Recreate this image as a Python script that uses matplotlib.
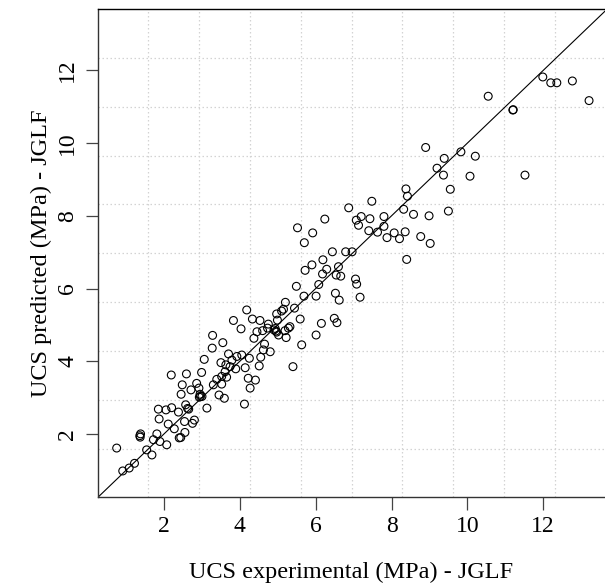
import numpy as np
import matplotlib
matplotlib.use('Agg')
import matplotlib.pyplot as plt

plt.rcParams['font.family'] = ['Liberation Serif', 'DejaVu Serif']

# UCS values (MPa)
ucs_exp = [0.75, 0.91, 1.08, 1.22, 1.37, 1.38, 1.36, 1.54, 1.68, 1.72,
           1.81, 1.87, 1.85, 1.89, 2.05, 2.07, 2.11, 2.19, 2.20, 2.27,
           2.38, 2.40, 2.44, 2.45, 2.48, 2.54, 2.55, 2.57, 2.59, 2.62,
           2.65, 2.71, 2.75, 2.80, 2.86, 2.92, 2.95, 2.99, 2.96, 3.00,
           2.93, 3.06, 3.13, 3.27, 3.28, 3.30, 3.39, 3.45, 3.52, 3.52,
           3.50, 3.55, 3.59, 3.61, 3.63, 3.65, 3.70, 3.74, 3.79, 3.83,
           3.89, 3.92, 4.03, 4.05, 4.12, 4.14, 4.18, 4.22, 4.25, 4.27,
           4.33, 4.37, 4.41, 4.45, 4.51, 4.53, 4.55, 4.60, 4.62, 4.65,
           4.73, 4.75, 4.80, 4.90, 4.95, 4.93, 4.97, 4.97, 4.99, 5.02,
           5.10, 5.15, 5.20, 5.19, 5.22, 5.28, 5.32, 5.40, 5.44, 5.49,
           5.52, 5.59, 5.63, 5.69, 5.70, 5.72, 5.90, 5.92, 6.01, 6.01,
           6.08, 6.15, 6.18, 6.19, 6.24, 6.29, 6.44, 6.49, 6.56, 6.52,
           6.54, 6.60, 6.62, 6.66, 6.79, 6.87, 6.96, 7.05, 7.07, 7.08,
           7.13, 7.17, 7.20, 7.40, 7.43, 7.48, 7.63, 7.80, 7.80, 7.88,
           8.07, 8.21, 8.32, 8.36, 8.40, 8.38, 8.42, 8.58, 8.77, 8.90,
           8.99, 9.02, 9.20, 9.37, 9.39, 9.50, 9.55, 9.83, 10.07, 10.21,
           10.55, 11.20, 11.21, 11.52, 11.99, 12.20, 12.36, 12.77, 13.21]
ucs_pred = [1.61, 0.98, 1.06, 1.19, 1.91, 2.00, 1.95, 1.56, 1.42, 1.84,
            2.00, 2.41, 2.68, 1.79, 2.66, 1.70, 2.27, 3.62, 2.72, 2.14,
            2.60, 1.89, 1.90, 3.09, 3.35, 2.34, 2.04, 2.80, 3.65, 2.70,
            2.68, 3.21, 2.29, 2.38, 3.39, 3.26, 3.09, 3.69, 3.03, 3.03,
            3.01, 4.05, 2.71, 4.36, 4.71, 3.35, 3.50, 3.07, 3.58, 3.37,
            3.96, 4.51, 2.98, 3.71, 3.90, 3.56, 4.20, 3.85, 4.03, 5.12,
            3.79, 4.13, 4.89, 4.17, 2.82, 3.82, 5.41, 3.53, 4.08, 3.26,
            5.16, 4.63, 3.48, 4.81, 3.87, 5.12, 4.11, 4.84, 4.31, 4.47,
            4.91, 5.02, 4.26, 4.86, 4.83, 4.90, 4.80, 5.30, 5.13, 4.72,
            5.38, 5.43, 5.62, 4.84, 4.65, 4.91, 4.95, 3.85, 5.46, 6.06,
            7.67, 5.16, 4.45, 5.79, 7.26, 6.50, 6.65, 7.53, 4.72, 5.79,
            6.11, 5.04, 6.40, 6.79, 7.91, 6.53, 7.01, 5.18, 5.06, 5.87,
            6.37, 6.60, 5.68, 6.34, 7.01, 8.22, 7.01, 6.26, 7.88, 6.12,
            7.74, 5.76, 7.98, 7.59, 7.92, 8.40, 7.55, 7.98, 7.71, 7.40,
            7.53, 7.37, 8.18, 7.56, 6.80, 8.74, 8.54, 8.04, 7.43, 9.88,
            8.00, 7.24, 9.31, 9.12, 9.58, 8.13, 8.73, 9.76, 9.09, 9.64,
            11.29, 10.91, 10.92, 9.12, 11.82, 11.66, 11.66, 11.71, 11.17]

xlim = (0.245, 13.645)
ylim = (0.25, 13.69)

fig = plt.figure(figsize=(6.05, 5.85), dpi=100)
ax = fig.add_axes([0.1612, 0.1496, 0.8397, 0.835])

# dotted grid, 10 equal divisions like R's grid(10, 10)
for gx in np.linspace(xlim[0], xlim[1], 11)[1:-1]:
    ax.axvline(gx, color='#d3d3d3', lw=0.9, ls=(0, (1.2, 2)), zorder=0)
for gy in np.linspace(ylim[0], ylim[1], 11)[1:-1]:
    ax.axhline(gy, color='#d3d3d3', lw=0.9, ls=(0, (1.2, 2)), zorder=0)

ax.scatter(ucs_exp, ucs_pred, s=32, facecolors='none', edgecolors='black',
           linewidths=0.8, zorder=3)
ax.plot([0, 14], [0, 14], color='black', lw=0.8, zorder=2)

ax.set_xlim(xlim)
ax.set_ylim(ylim)
ax.set_xticks([2, 4, 6, 8, 10, 12])
ax.set_yticks([2, 4, 6, 8, 10, 12])
ax.tick_params(direction='out', length=9, width=0.9, color='#444444',
               labelsize=17, pad=4)
ax.tick_params(axis='y', labelrotation=90, pad=5)
for lab in ax.get_yticklabels():
    lab.set_va('center')

for s in ax.spines.values():
    s.set_color('#333333')
    s.set_linewidth(1.0)
ax.spines['top'].set_color('black')

ax.set_xlabel('UCS experimental (MPa) - JGLF', fontsize=17.5, labelpad=18)
ax.set_ylabel('UCS predicted (MPa) - JGLF', fontsize=17.5, labelpad=4)

fig.savefig('out.png', dpi=100)
